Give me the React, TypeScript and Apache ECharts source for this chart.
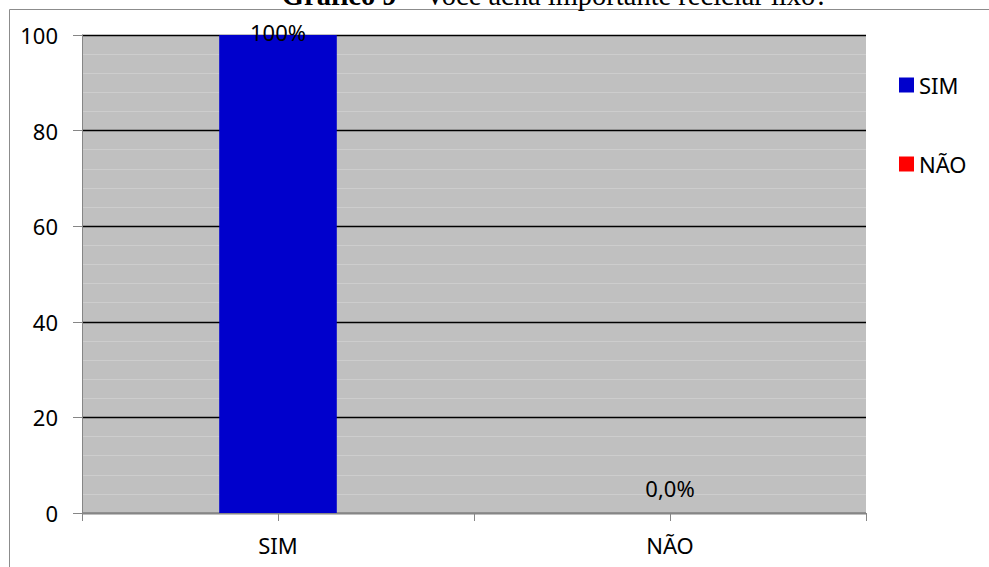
import React, { useEffect, useRef } from "react";
import * as echarts from "echarts";

// Respostas: "Você acha importante reciclar lixo?"
const categories = ["SIM", "NÃO"];
const seriesNames = ["SIM", "NÃO"];
const seriesColors = ["#0000cc", "#ff0000"];
// percentage per answer
const values = [100, 0];
const valueLabels = ["100%", "0,0%"];
const yTicks = { min: 0, max: 100, interval: 20 };

const FONT = "'Noto Sans', 'Open Sans', sans-serif";
const SERIF = "'Liberation Serif', 'DejaVu Serif', serif";

export default function App() {
  const ref = useRef<HTMLDivElement>(null);

  useEffect(() => {
    if (!ref.current) return;
    const chart = echarts.init(ref.current, undefined, { renderer: "svg" });

    // one series per answer, each holding a value only in its own category
    const series = seriesNames.map((name, i) => ({
      name,
      type: "bar",
      stack: "total",
      barWidth: "30%",
      itemStyle: { color: seriesColors[i] },
      label: {
        show: true,
        position: "top",
        distance: values[i] >= yTicks.max ? -8 : 14,
        color: "#000",
        fontFamily: FONT,
        fontSize: 22,
        formatter: () => valueLabels[i],
      },
      data: categories.map((_, c) => (c === i ? values[i] : "-")),
    }));

    chart.setOption({
      animation: false,
      backgroundColor: "#ffffff",
      graphic: [
        {
          type: "rect",
          silent: true,
          shape: { x: 9.5, y: 9.5, width: 1100, height: 700 },
          style: { fill: "none", stroke: "#8c8c8c", lineWidth: 1 },
        },
        {
          type: "text",
          x: 555,
          y: 10,
          style: {
            text: "{b|Gráfico 9} – Você acha importante reciclar lixo?",
            align: "center",
            verticalAlign: "bottom",
            fontFamily: SERIF,
            fontSize: 28.5,
            fill: "#000",
            rich: {
              b: {
                fontFamily: SERIF,
                fontSize: 28.5,
                fontWeight: "bold",
                fill: "#000",
              },
            },
          },
        },
      ],
      legend: {
        orient: "vertical",
        left: 894,
        top: 67,
        icon: "rect",
        itemWidth: 15,
        itemHeight: 15,
        itemGap: 53,
        data: seriesNames,
        textStyle: {
          fontFamily: FONT,
          fontSize: 22,
          color: "#000",
          lineHeight: 26,
        },
      },
      grid: {
        left: 82,
        right: 123,
        top: 35,
        bottom: 54,
        show: true,
        backgroundColor: "#c0c0c0",
        borderWidth: 0,
      },
      xAxis: [
        {
          type: "category",
          data: categories,
          axisLine: { lineStyle: { color: "#868686", width: 1 } },
          axisTick: { show: true, length: 8, lineStyle: { color: "#868686" } },
          axisLabel: {
            color: "#000",
            fontFamily: FONT,
            fontSize: 22,
            margin: 21,
          },
        },
        {
          // extra ticks under the centre of each category
          type: "category",
          data: categories,
          position: "bottom",
          axisLine: { show: false },
          axisTick: {
            show: true,
            alignWithLabel: true,
            length: 8,
            lineStyle: { color: "#868686" },
          },
          axisLabel: { show: false },
        },
      ],
      yAxis: {
        type: "value",
        min: yTicks.min,
        max: yTicks.max,
        interval: yTicks.interval,
        axisLine: { show: true, lineStyle: { color: "#868686", width: 1 } },
        axisTick: { show: true, length: 9, lineStyle: { color: "#868686" } },
        axisLabel: {
          color: "#000",
          fontFamily: FONT,
          fontSize: 22,
          margin: 24,
        },
        splitLine: { show: true, lineStyle: { color: "#000", width: 1.4 } },
        minorTick: { show: false, splitNumber: 5 },
        minorSplitLine: {
          show: true,
          lineStyle: { color: "#cdcdcd", width: 1 },
        },
      },
      series,
    });

    return () => chart.dispose();
  }, []);

  return (
    <div
      ref={ref}
      style={{ position: "fixed", left: 0, top: 0, width: 989, height: 567 }}
    />
  );
}
